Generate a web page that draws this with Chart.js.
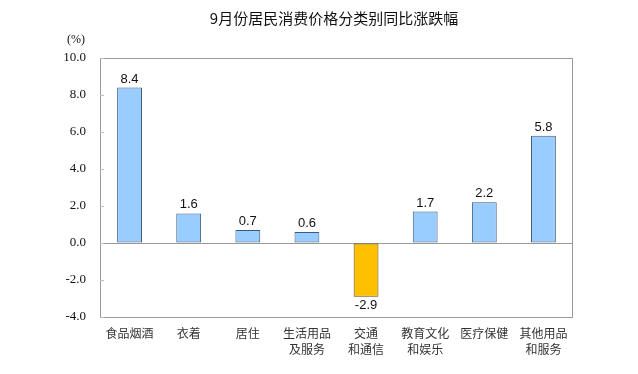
<!DOCTYPE html>
<html>
<head>
<meta charset="utf-8">
<script src="https://cdn.jsdelivr.net/npm/chart.js@4"></script>
<style>
  html, body { margin: 0; padding: 0; background: #fff; }
  #wrap { width: 638px; height: 374px; position: relative; }
</style>
</head>
<body>
<div id="wrap"><canvas id="myChart" width="638" height="374"></canvas></div>
<script>
const title = "9月份居民消费价格分类别同比涨跌幅";
const unit = "(%)";
const categories = [
  ["食品烟酒"], ["衣着"], ["居住"], ["生活用品", "及服务"],
  ["交通", "和通信"], ["教育文化", "和娱乐"], ["医疗保健"], ["其他用品", "和服务"]
];
const values = [8.4, 1.6, 0.7, 0.6, -2.9, 1.7, 2.2, 5.8];
const yTicks = [-4, -2, 0, 2, 4, 6, 8, 10];

const cjk = "'Noto Sans CJK SC', sans-serif";

const labelsPlugin = {
  id: "extras",
  afterDraw(chart) {
    const ctx = chart.ctx;
    const area = chart.chartArea;
    const y = chart.scales.y;
    ctx.save();
    // frame
    ctx.strokeStyle = "#999";
    ctx.lineWidth = 1;
    ctx.strokeRect(area.left + 0.5, area.top + 0.5, area.right - area.left - 1, area.bottom - area.top);
    // small inward tick marks
    ctx.strokeStyle = "#bbb";
    yTicks.forEach(v => {
      const py = Math.round(y.getPixelForValue(v)) + 0.5;
      ctx.beginPath();
      ctx.moveTo(area.left, py);
      ctx.lineTo(area.left + 4, py);
      ctx.stroke();
    });
    // title
    ctx.fillStyle = "#111";
    ctx.font = "15px " + cjk;
    ctx.textAlign = "center";
    ctx.textBaseline = "middle";
    ctx.fillText(title, 334, 18);
    // unit
    ctx.font = "12px 'Liberation Serif', serif";
    ctx.fillText(unit, 76, 40);
    // value labels
    ctx.font = "13px 'Liberation Sans', Arial, sans-serif";
    ctx.fillStyle = "#111";
    const meta = chart.getDatasetMeta(0);
    meta.data.forEach((bar, i) => {
      const v = values[i];
      if (v >= 0) {
        ctx.textBaseline = "bottom";
        ctx.fillText(v.toFixed(1), bar.x, bar.y - 2);
      } else {
        ctx.textBaseline = "top";
        ctx.fillText(v.toFixed(1), bar.x, bar.y + 2);
      }
    });
    ctx.restore();
  }
};

new Chart(document.getElementById("myChart"), {
  type: "bar",
  data: {
    labels: categories,
    datasets: [{
      data: values,
      backgroundColor: values.map(v => v < 0 ? "#FFC000" : "#99CCFF"),
      borderColor: values.map(v => v < 0 ? "#5a4a1a" : "#3c5a7a"),
      borderWidth: 1,
      borderSkipped: false,
      barPercentage: 0.42,
      categoryPercentage: 1.0
    }]
  },
  options: {
    responsive: false,
    animation: false,
    layout: { padding: { left: 0, right: 65, top: 58, bottom: 0 } },
    plugins: {
      legend: { display: false },
      tooltip: { enabled: false }
    },
    scales: {
      x: {
        grid: { display: false },
        border: { display: false },
        ticks: {
          color: "#333",
          font: { family: cjk, size: 12, lineHeight: 1.3 },
          padding: 1,
          maxRotation: 0,
          autoSkip: false
        },
        afterFit: s => { s.height = 57; }
      },
      y: {
        min: -4,
        max: 10,
        afterBuildTicks: s => { s.ticks = yTicks.map(v => ({ value: v })); },
        grid: {
          drawOnChartArea: true,
          drawTicks: false,
          color: c => c.tick && c.tick.value === 0 ? "#999" : "rgba(0,0,0,0)"
        },
        border: { display: false },
        ticks: {
          color: "#111",
          font: { family: "'Liberation Serif', serif", size: 13 },
          padding: 14,
          callback: v => Number(v).toFixed(1)
        },
        afterFit: s => { s.width = 100; }
      }
    }
  },
  plugins: [labelsPlugin]
});
</script>
</body>
</html>
